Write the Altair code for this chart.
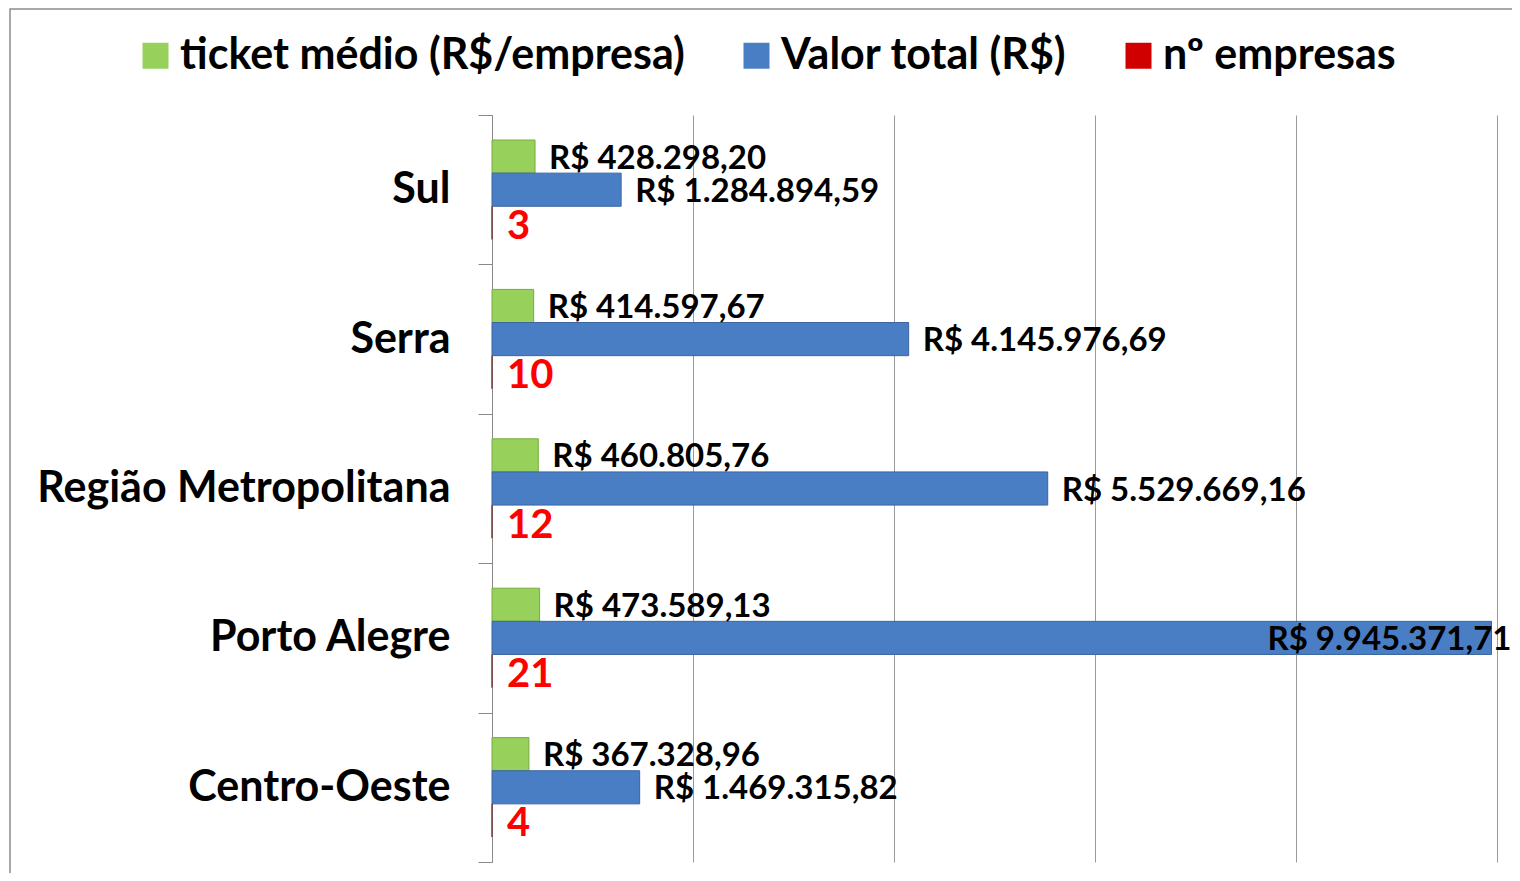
import altair as alt
import pandas as pd

regioes = ["Sul", "Serra", "Região Metropolitana", "Porto Alegre", "Centro-Oeste"]
series = ["ticket médio (R$/empresa)", "Valor total (R$)", "nº empresas"]
ticket = [428298.20, 414597.67, 460805.76, 473589.13, 367328.96]
total = [1284894.59, 4145976.69, 5529669.16, 9945371.71, 1469315.82]
empresas = [3, 10, 12, 21, 4]
cores = ["#97D15C", "#4A7EC4", "#D00000"]
bordas = ["#76AD3E", "#3A659E", "#7A3A3A"]
grade = [0, 2000000, 4000000, 6000000, 8000000, 10000000]


def brl(v):
    s = f"{v:,.2f}".replace(",", "X").replace(".", ",").replace("X", ".")
    return "R$ " + s


rows = []
for i, r in enumerate(regioes):
    rows.append(dict(regiao=r, serie=series[0], valor=ticket[i], rotulo=brl(ticket[i]), tipo="rs"))
    rows.append(dict(regiao=r, serie=series[1], valor=total[i], rotulo=brl(total[i]), tipo="rs"))
    rows.append(dict(regiao=r, serie=series[2], valor=empresas[i], rotulo=str(empresas[i]), tipo="n"))
df = pd.DataFrame(rows)

FONT = "Lato"
W, H = 1005, 747

y = alt.Y(
    "regiao:N", sort=regioes, title=None,
    scale=alt.Scale(paddingInner=0, paddingOuter=0),
    axis=alt.Axis(labelFont=FONT, labelFontSize=43, labelFontWeight="bold", labelColor="#000",
                  labelPadding=28, tickSize=14, tickBand="extent", tickColor="#8a8a8a",
                  domainColor="#8a8a8a", labelLimit=0, grid=False),
)
yoff = alt.YOffset("serie:N", sort=series, scale=alt.Scale(paddingInner=0, paddingOuter=0.755))
x = alt.X(
    "valor:Q", title=None, scale=alt.Scale(domain=[0, 10000000]),
    axis=alt.Axis(values=grade, labels=False, ticks=False, domain=False, grid=True,
                  gridColor="#9a9a9a", gridWidth=1),
)

moldura = alt.Chart(pd.DataFrame({"k": [0]})).mark_rect(
    fillOpacity=0, stroke="#8c8c8c", strokeWidth=1.5
).encode(x=alt.value(-482), x2=alt.value(1060), y=alt.value(-106), y2=alt.value(820))

base = alt.Chart(df)
bars = base.mark_bar(strokeWidth=1).encode(
    x=x, y=y, yOffset=yoff,
    color=alt.Color(
        "serie:N", sort=series, scale=alt.Scale(domain=series, range=cores),
        legend=alt.Legend(title=None, orient="none", legendX=-358, legendY=-81,
                          direction="horizontal", symbolType="square", symbolSize=676,
                          labelFont=FONT, labelFontSize=43, labelFontWeight="bold",
                          labelColor="#000", columnPadding=50, labelOffset=3,
                          symbolStrokeWidth=0, padding=0, labelLimit=0, symbolOpacity=1),
    ),
    stroke=alt.Stroke("serie:N", sort=series, scale=alt.Scale(domain=series, range=bordas), legend=None),
)

rot = base.transform_filter("datum.tipo == 'rs' && datum.valor <= 9000000").mark_text(
    align="left", baseline="middle", dx=14, dy=2, font=FONT, fontSize=33,
    fontWeight="bold", color="#000"
).encode(x=x, y=y, yOffset=yoff, text="rotulo:N")

rot_dentro = base.transform_filter("datum.tipo == 'rs' && datum.valor > 9000000").mark_text(
    align="right", baseline="middle", dx=20, dy=2, font=FONT, fontSize=33,
    fontWeight="bold", color="#000"
).encode(x=x, y=y, yOffset=yoff, text="rotulo:N")

rot_n = base.transform_filter("datum.tipo == 'n'").mark_text(
    align="left", baseline="middle", dx=15, dy=4, font=FONT, fontSize=40,
    fontWeight="bold", color="#FF0000"
).encode(x=x, y=y, yOffset=yoff, text="rotulo:N")

chart = alt.layer(moldura, bars, rot, rot_dentro, rot_n).properties(
    width=W, height=H,
    autosize=alt.AutoSizeParams(type="none"),
    padding={"left": 484, "top": 107, "right": 15, "bottom": 11},
).configure_view(stroke=None)

chart.save("out.html", embed_options={"renderer": "svg", "actions": False})
